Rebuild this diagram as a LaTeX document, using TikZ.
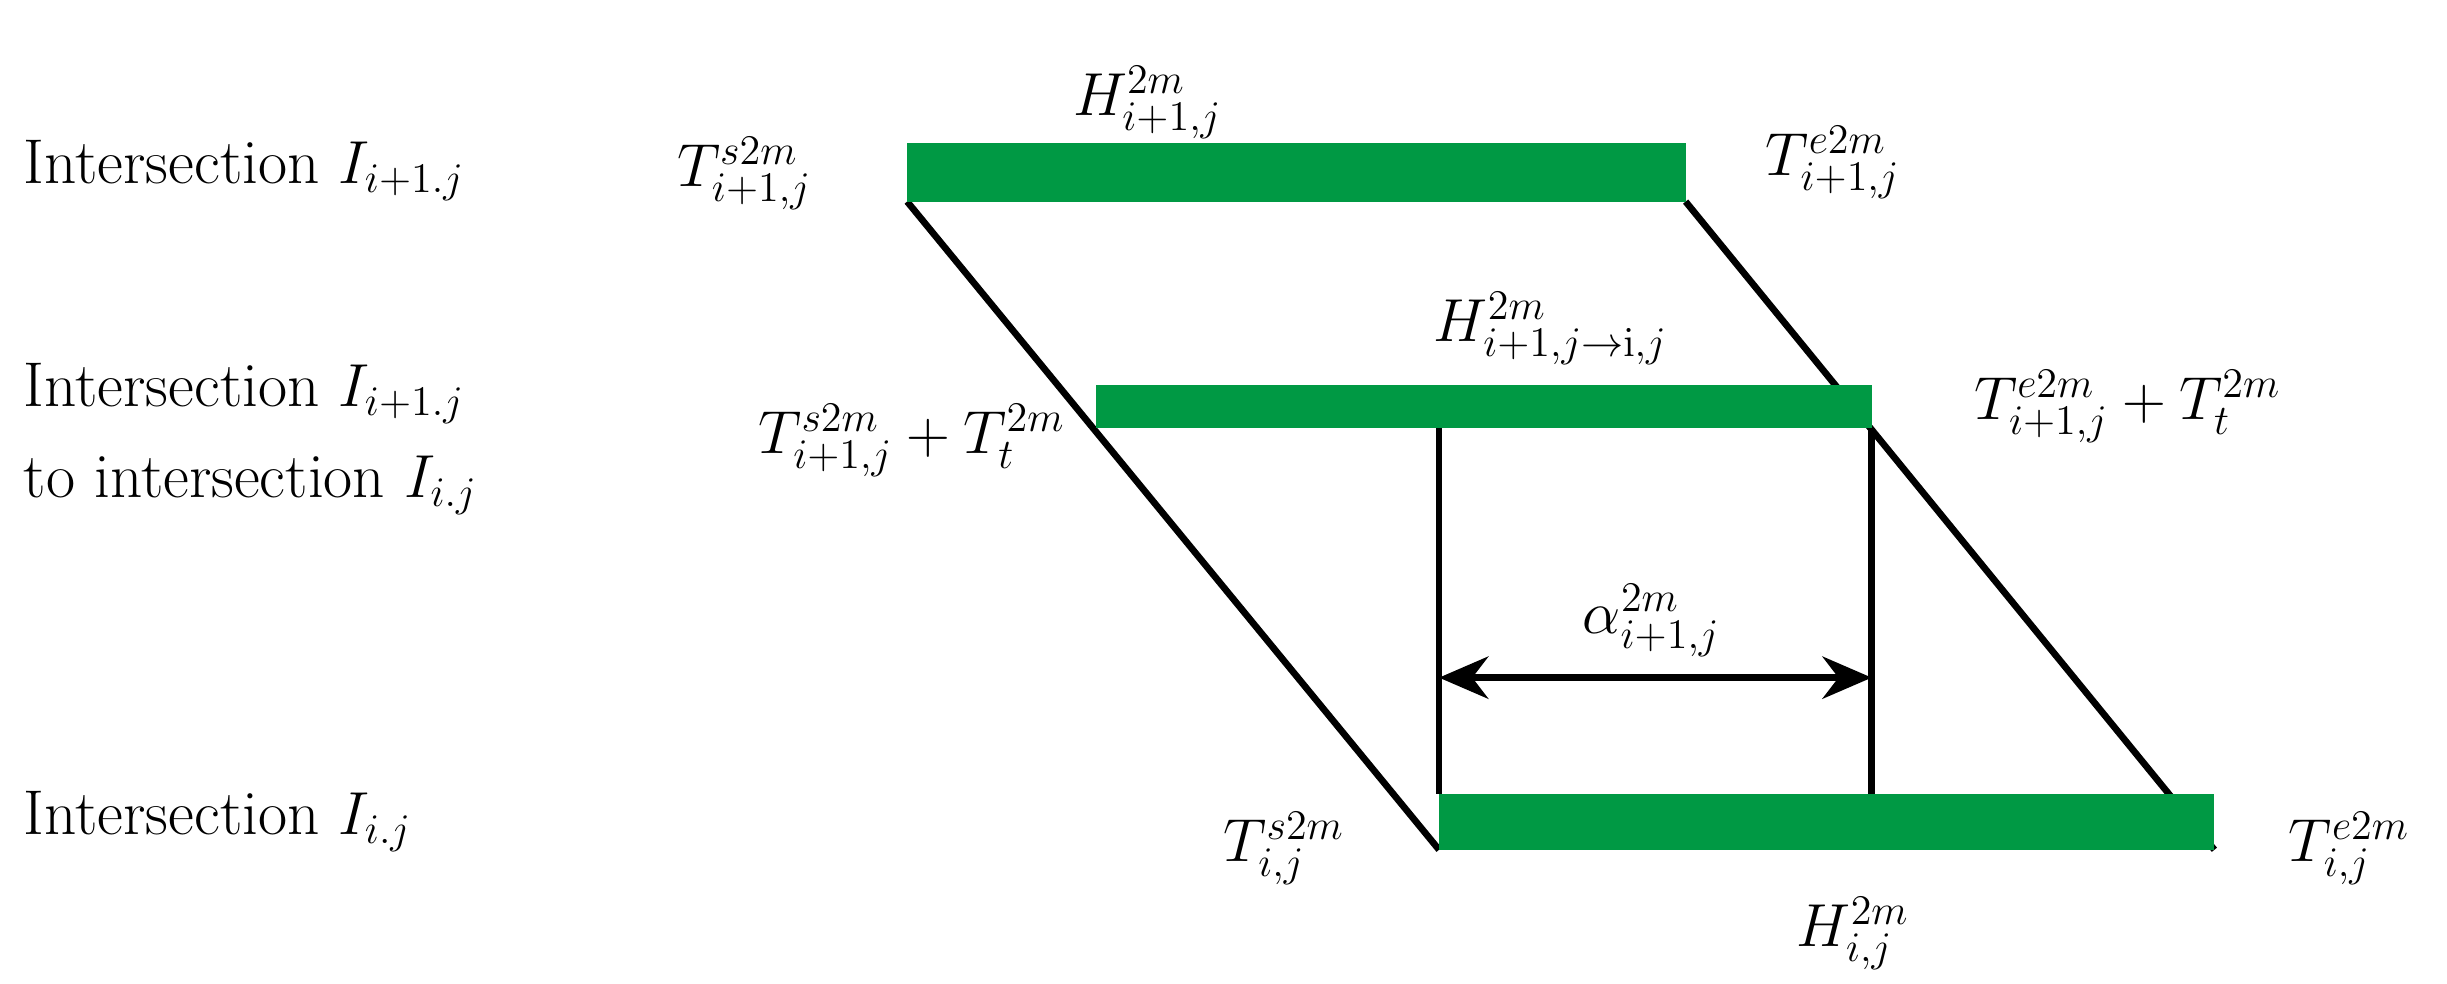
\documentclass[tikz,border=0pt]{standalone}
\usepackage{tikz}
\usetikzlibrary{arrows.meta}
\definecolor{barGreen}{RGB}{0,153,68}
\begin{document}
\begin{tikzpicture}[x=0.0155cm,y=-0.0155cm,font=\fontsize{18}{22}\selectfont,
  bar/.style={fill=barGreen,draw=none},
  link/.style={line width=1.9pt},
  lbl/.style={inner sep=0pt}]
\useasboundingbox (0,0) rectangle (1578,634);

% slanted links
\coordinate (ls) at (585,130);
\coordinate (le) at (928,548);
\coordinate (rs) at (1087,130);
\coordinate (re) at (1428,548);
\draw[link] (ls) -- (le);
\draw[link] (rs) -- (re);

% green bars
\fill[bar] (585,92) rectangle (1087,130);
\fill[bar] (707,248) rectangle (1207,276);
\fill[bar] (928,512) rectangle (1428,548);

% verticals and width arrow
\coordinate (va) at (928,276);
\coordinate (vb) at (928,512);
\coordinate (vc) at (1207,276);
\coordinate (vd) at (1207,512);
\draw[link] (va) -- (vb);
\draw[link] (vc) -- (vd);
\coordinate (aa) at (928,437);
\coordinate (ab) at (1207,437);
\draw[link,{Stealth[length=14pt,width=12pt]}-{Stealth[length=14pt,width=12pt]}] (aa) -- (ab);

% row labels
\node[lbl,anchor=west] (row1) at (15,110) {Intersection $I_{i+1.j}$};
\node[lbl,anchor=west,align=left] (row2) at (15,283) {Intersection $I_{i+1.j}$\\[4pt]to intersection $I_{i.j}$};
\node[lbl,anchor=west] (row3) at (15,530) {Intersection $I_{i.j}$};

% time labels
\node[lbl] (ts1) at (480,112) {$T^{s2m}_{i+1,j}$};
\node[lbl] (h1) at (740,66) {$H^{2m}_{i+1,j}$};
\node[lbl] (te1) at (1182,105) {$T^{e2m}_{i+1,j}$};
\node[lbl] (h12) at (1000,212) {$H^{2m}_{i+1,j\rightarrow\mathrm{i},j}$};
\node[lbl] (ts12) at (588,284) {$T^{s2m}_{i+1,j}+T^{2m}_{t}$};
\node[lbl] (te12) at (1372,262) {$T^{e2m}_{i+1,j}+T^{2m}_{t}$};
\node[lbl] (al) at (1065,400) {$\alpha^{2m}_{i+1,j}$};
\node[lbl] (ts2) at (828,547) {$T^{s2m}_{i,j}$};
\node[lbl] (te2) at (1515,547) {$T^{e2m}_{i,j}$};
\node[lbl] (h2) at (1195,602) {$H^{2m}_{i,j}$};
\end{tikzpicture}
\end{document}
